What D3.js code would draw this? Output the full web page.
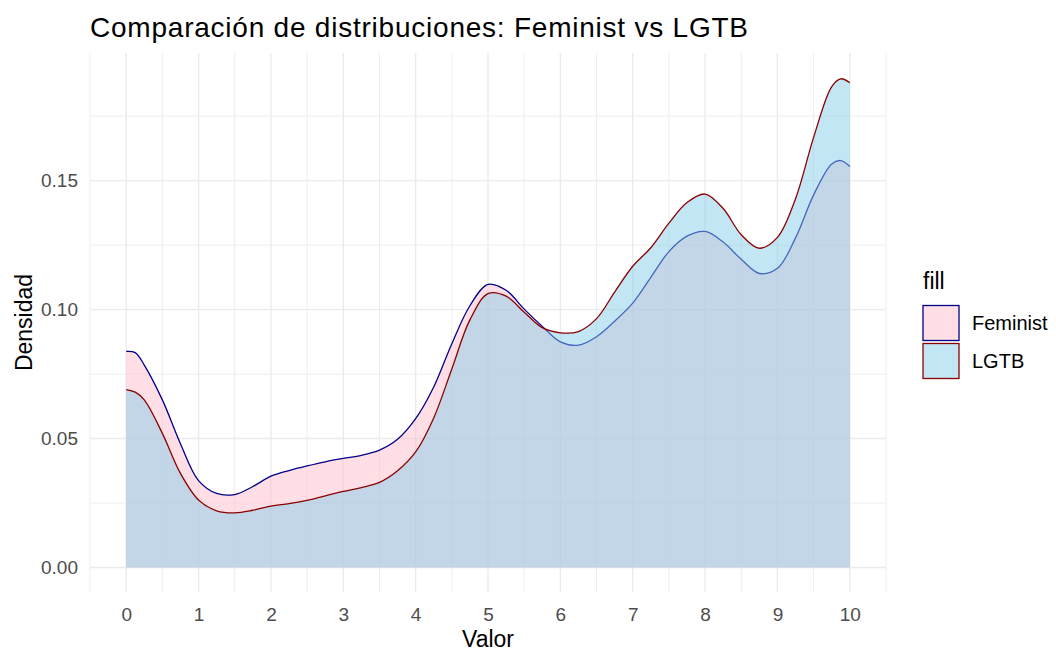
<!DOCTYPE html>
<html>
    <head>
        <script src="https://d3js.org/d3.v7.min.js"></script>
        <style>
            body { margin: 0; background-color: #ffffff; }
            text { font-family: "Liberation Sans", Arial, sans-serif; }
        </style>
    </head>
    <body>
        <div id="chart"></div>
        <script>
            // valores (densidad estimada)
            const valor = [0, 0.125, 0.25, 0.5, 0.75, 1, 1.25, 1.5, 1.75, 2, 2.25, 2.5, 2.75, 3, 3.25, 3.5, 3.75,
                           4, 4.25, 4.5, 4.75, 5, 5.25, 5.5, 5.75, 6, 6.25, 6.5, 6.75, 7, 7.25, 7.5, 7.75,
                           8, 8.25, 8.5, 8.75, 9, 9.25, 9.5, 9.75, 9.875, 10];
            const feminist = [0.0838, 0.0833, 0.0785, 0.0650, 0.0480, 0.0337, 0.0287, 0.0283, 0.0314, 0.0354, 0.0376,
                              0.0394, 0.0410, 0.0423, 0.0435, 0.0455, 0.0497, 0.0577, 0.0700, 0.0868, 0.1015, 0.1098,
                              0.1075, 0.1002, 0.0935, 0.0875, 0.0862, 0.0895, 0.0955, 0.1025, 0.1125, 0.1225, 0.1285,
                              0.1303, 0.1262, 0.1195, 0.1140, 0.1160, 0.1278, 0.1445, 0.1565, 0.1578, 0.1555];
            const lgtb = [0.0690, 0.0680, 0.0650, 0.0520, 0.0365, 0.0262, 0.0220, 0.0212, 0.0222, 0.0238, 0.0248,
                          0.0260, 0.0278, 0.0295, 0.0310, 0.0330, 0.0375, 0.0448, 0.0580, 0.0770, 0.0960, 0.1062,
                          0.1052, 0.0990, 0.0930, 0.0910, 0.0915, 0.0965, 0.1068, 0.1168, 0.1240, 0.1335, 0.1415,
                          0.1448, 0.1392, 0.1290, 0.1238, 0.1280, 0.1430, 0.1668, 0.1865, 0.1895, 0.1880];
            const grupos = ["Feminist", "LGTB"];
            const xTicks = [0, 1, 2, 3, 4, 5, 6, 7, 8, 9, 10];
            const yTicks = [0, 0.05, 0.10, 0.15];

            const width = 1056, height = 653;
            const panel = { left: 90, right: 886, top: 53, bottom: 592 };

            const svg = d3.select("#chart").append("svg")
                .attr("width", width).attr("height", height);

            const x = d3.scaleLinear().domain([-0.5, 10.5]).range([panel.left, panel.right]);
            const y = d3.scaleLinear().domain([-0.0095, 0.1995]).range([panel.bottom, panel.top]);

            const fills = d3.scaleOrdinal().domain(grupos).range(["#FFC0CB", "#87CEEB"]);
            const lines = d3.scaleOrdinal().domain(grupos).range(["#00008B", "#8B0000"]);

            // rejilla
            const grid = svg.append("g");
            const xMinor = d3.range(-0.5, 10.51, 1);
            const yMinor = [0.025, 0.075, 0.125, 0.175];
            grid.selectAll(".vminor").data(xMinor).join("line")
                .attr("x1", d => x(d)).attr("x2", d => x(d))
                .attr("y1", panel.top).attr("y2", panel.bottom)
                .attr("stroke", "#EBEBEB").attr("stroke-width", 0.9);
            grid.selectAll(".hminor").data(yMinor).join("line")
                .attr("x1", panel.left).attr("x2", panel.right)
                .attr("y1", d => y(d)).attr("y2", d => y(d))
                .attr("stroke", "#EBEBEB").attr("stroke-width", 0.9);
            grid.selectAll(".vmajor").data(xTicks).join("line")
                .attr("x1", d => x(d)).attr("x2", d => x(d))
                .attr("y1", panel.top).attr("y2", panel.bottom)
                .attr("stroke", "#EBEBEB").attr("stroke-width", 1.4);
            grid.selectAll(".hmajor").data(yTicks).join("line")
                .attr("x1", panel.left).attr("x2", panel.right)
                .attr("y1", d => y(d)).attr("y2", d => y(d))
                .attr("stroke", "#EBEBEB").attr("stroke-width", 1.4);

            const area = d3.area().x(d => x(d[0])).y0(y(0)).y1(d => y(d[1])).curve(d3.curveCatmullRom.alpha(0.5));
            const line = d3.line().x(d => x(d[0])).y(d => y(d[1])).curve(d3.curveCatmullRom.alpha(0.5));

            const series = [
                { name: "Feminist", pts: valor.map((v, i) => [v, feminist[i]]) },
                { name: "LGTB", pts: valor.map((v, i) => [v, lgtb[i]]) }
            ];

            series.forEach(s => {
                svg.append("path").attr("d", area(s.pts))
                    .attr("fill", fills(s.name)).attr("fill-opacity", 0.5);
                svg.append("path").attr("d", line(s.pts))
                    .attr("fill", "none").attr("stroke", lines(s.name)).attr("stroke-width", 1.3);
            });

            // ejes (sin lineas ni marcas, estilo theme_minimal)
            const xAxis = svg.append("g")
                .attr("transform", `translate(0,${panel.bottom})`)
                .call(d3.axisBottom(x).tickValues(xTicks).tickSize(0).tickPadding(0).tickFormat(d3.format("d")));
            xAxis.select(".domain").remove();
            xAxis.selectAll("text").attr("y", 29).attr("dy", 0)
                .style("font-family", '"Liberation Sans", Arial, sans-serif')
                .style("font-size", "19px").attr("fill", "#4D4D4D");

            const yAxis = svg.append("g")
                .attr("transform", `translate(${panel.left},0)`)
                .call(d3.axisLeft(y).tickValues(yTicks).tickSize(0).tickPadding(12).tickFormat(d3.format(".2f")));
            yAxis.select(".domain").remove();
            yAxis.selectAll("text")
                .style("font-family", '"Liberation Sans", Arial, sans-serif')
                .style("font-size", "19px").attr("fill", "#4D4D4D");

            svg.append("text").attr("x", (panel.left + panel.right) / 2).attr("y", 647)
                .attr("text-anchor", "middle").style("font-size", "23px").attr("fill", "#000")
                .text("Valor");
            svg.append("text").attr("transform", `translate(32,${(panel.top + panel.bottom) / 2}) rotate(-90)`)
                .attr("text-anchor", "middle").style("font-size", "23px").attr("fill", "#000")
                .text("Densidad");

            svg.append("text").attr("x", 90).attr("y", 37)
                .style("font-size", "28px").attr("fill", "#000")
                .attr("textLength", 658).attr("lengthAdjust", "spacing")
                .text("Comparación de distribuciones: Feminist vs LGTB");

            // leyenda
            const legend = svg.append("g").attr("transform", "translate(923,0)");
            legend.append("text").attr("x", 0).attr("y", 289)
                .style("font-size", "23px").attr("fill", "#000").text("fill");
            const keys = legend.selectAll(".key").data(grupos).join("g")
                .attr("transform", (d, i) => `translate(0,${305.5 + i * 38})`);
            keys.append("rect").attr("width", 36).attr("height", 35)
                .attr("fill", d => fills(d)).attr("fill-opacity", 0.5)
                .attr("stroke", d => lines(d)).attr("stroke-width", 1.3);
            keys.append("text").attr("x", 49).attr("y", 17.5).attr("dy", "0.36em")
                .style("font-size", "20px").attr("fill", "#000").text(d => d);
        </script>
    </body>
</html>
